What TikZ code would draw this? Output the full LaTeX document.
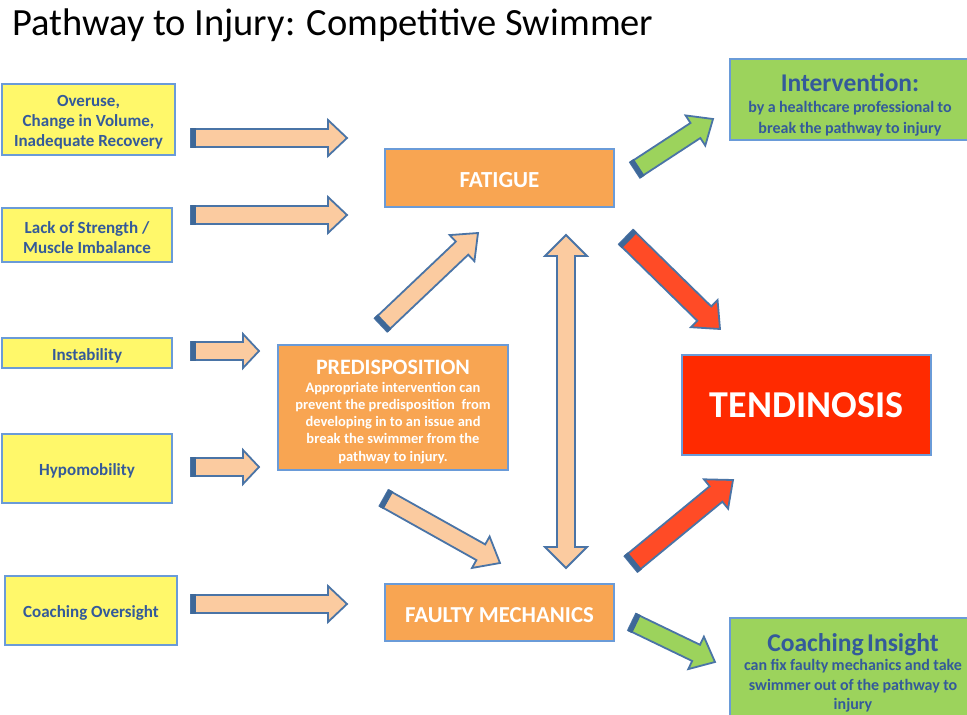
\documentclass[tikz,border=0pt]{standalone}
\usepackage{fontspec}
\setmainfont{Carlito}
\usetikzlibrary{calc}

\definecolor{boxline}{HTML}{6A9BD8}
\definecolor{txtblue}{HTML}{345A9A}
\definecolor{yellowfill}{HTML}{FFF86A}
\definecolor{orangefill}{HTML}{F8A552}
\definecolor{greenfill}{HTML}{9CD35C}
\definecolor{tendred}{HTML}{FF2A00}
\definecolor{peach}{HTML}{FBCBA0}
\definecolor{arrowred}{HTML}{FF4B26}
\definecolor{arrowgreen}{HTML}{9CD35C}
\definecolor{arrowline}{HTML}{4A74A6}
\definecolor{tailblue}{HTML}{3E6898}

\tikzset{
  basebox/.style={draw=boxline, line width=2pt, inner sep=0pt, align=center},
  ybox/.style={basebox, fill=yellowfill},
  ylab/.style={text=txtblue, align=center, inner sep=0pt, yshift=-2.5pt,
    font=\fontsize{17}{20}\selectfont\bfseries},
  obox/.style={basebox, fill=orangefill, text=white},
  olab/.style={text=white, align=center, inner sep=0pt, yshift=-2.5pt,
    font=\fontsize{23}{26}\selectfont\bfseries},
  gbox/.style={basebox, fill=greenfill, text=txtblue},
  rbox/.style={basebox, fill=tendred, text=white},
  arrowbody/.style={draw=arrowline, line width=1.8pt, line join=miter},
}

% block arrow: #1 fill, #2 tail, #3 tip, #4 shaft half width,
% #5 head half width, #6 head length
\newcommand\blockarrow[6]{%
  \coordinate (hb) at ($(#3)!#6!(#2)$);
  \coordinate (tl) at ($(#2)!5pt!(#3)$);
  \filldraw[arrowbody, fill=#1]
    ($(#2)!#4!90:(#3)$) -- ($(hb)!#4!-90:(#2)$) -- ($(hb)!#5!-90:(#2)$)
    -- (#3) -- ($(hb)!#5!90:(#2)$) -- ($(hb)!#4!90:(#2)$)
    -- ($(#2)!#4!-90:(#3)$) -- cycle;
  \fill[tailblue]
    ($(#2)!#4+1pt!90:(#3)$) -- ($(tl)!#4+1pt!90:(#3)$)
    -- ($(tl)!#4+1pt!-90:(#3)$) -- ($(#2)!#4+1pt!-90:(#3)$) -- cycle;
}

\begin{document}
\begin{tikzpicture}[x=1pt, y=-1pt]
\useasboundingbox (0,0) rectangle (967,715);
\fill[white] (0,0) rectangle (967,715);

% title
\node[anchor=base west, inner sep=0pt, font=\fontsize{38.5}{44}\selectfont]
  (title) at (12,35) {Pathway to Injury: Competitive Swimmer};

% causes on the left
\node[ybox, minimum width=173pt, minimum height=71pt,
  label={[ylab]center:{Overuse,\\Change in Volume,\\Inadequate Recovery}}]
  (overuse) at (88.5,119.5) {};
\node[ybox, minimum width=170pt, minimum height=54pt,
  label={[ylab]center:{Lack of Strength /\\Muscle Imbalance}}]
  (strength) at (87,235) {};
\node[ybox, minimum width=170pt, minimum height=30pt,
  label={[ylab]center:{Instability}}]
  (instab) at (87,353) {};
\node[ybox, minimum width=170pt, minimum height=69pt,
  label={[ylab]center:{Hypomobility}}]
  (hypo) at (87,468.5) {};
\node[ybox, minimum width=172pt, minimum height=69pt,
  label={[ylab]center:{Coaching Oversight}}]
  (oversight) at (91,610.5) {};

% central stages
\node[obox, minimum width=229pt, minimum height=58pt,
  label={[olab]center:{FATIGUE}}] (fatigue) at (499.5,178) {};
\node[obox, minimum width=230pt, minimum height=125pt] (predisbox)
  at (393,407.5) {};
\node[text=white, text width=226pt, align=center, inner sep=0pt,
  font=\bfseries] (predis) at (393,412)
  {{\fontsize{22}{24}\selectfont PREDISPOSITION\par}
   {\fontsize{14.5}{17.3}\selectfont Appropriate intervention can\\
    prevent the predisposition\ \ from\\ developing in to an issue and\\
    break the swimmer from the\\ pathway to injury.\par}};
\node[obox, minimum width=229pt, minimum height=57pt,
  label={[olab, font=\fontsize{22.8}{26}\selectfont\bfseries]center:{FAULTY MECHANICS}}]
  (mech) at (499.5,612.5) {};

% outcome
\node[rbox, minimum width=249pt, minimum height=100pt,
  font=\fontsize{38}{44}\selectfont\bfseries] (tend) at (806.5,405) {TENDINOSIS};

% interventions
\node[gbox, minimum width=240pt, minimum height=81pt] (intervbox)
  at (850,99.5) {};
\node[text=txtblue, text width=236pt, align=center, inner sep=0pt,
  font=\bfseries] (interv) at (850,105)
  {{\fontsize{25.5}{26}\selectfont Intervention:\par}
   {\fontsize{16}{21}\selectfont by a healthcare professional to\\
    break the pathway to injury\par}};
\node[gbox, minimum width=240pt, minimum height=104pt, anchor=north] (insightbox)
  at (850,617) {};
\node[text=txtblue, text width=236pt, align=center, anchor=north, inner sep=0pt,
  font=\bfseries] (insight) at (853,633)
  {{\fontsize{25.6}{26}\selectfont Coaching Insight\par}
   {\fontsize{16}{19.5}\selectfont can fix faulty mechanics and take\\
    swimmer out of the pathway to\\ injury\par}};

% arrow end points
\coordinate (a1s) at (191,138);  \coordinate (a1e) at (347,138);
\coordinate (a2s) at (191,215);  \coordinate (a2e) at (347,215);
\coordinate (a3s) at (191,351);  \coordinate (a3e) at (259,351);
\coordinate (a4s) at (191,467);  \coordinate (a4e) at (259,467);
\coordinate (a5s) at (191,604);  \coordinate (a5e) at (347,604);
\coordinate (pfs) at (381,325);  \coordinate (pfe) at (478,233);
\coordinate (pms) at (384,498);  \coordinate (pme) at (500,563);
\coordinate (fts) at (626,237);  \coordinate (fte) at (720,329);
\coordinate (mts) at (631,564);  \coordinate (mte) at (733,480);
\coordinate (fis) at (635,170);  \coordinate (fie) at (713,119);
\coordinate (mcs) at (632,622);  \coordinate (mce) at (715,662);

% arrows from causes
\blockarrow{peach}{a1s}{a1e}{9pt}{18pt}{19pt}
\blockarrow{peach}{a2s}{a2e}{9pt}{18pt}{19pt}
\blockarrow{peach}{a3s}{a3e}{9pt}{17pt}{16pt}
\blockarrow{peach}{a4s}{a4e}{9pt}{17pt}{16pt}
\blockarrow{peach}{a5s}{a5e}{9pt}{18pt}{19pt}

% predisposition feeding fatigue and mechanics
\blockarrow{peach}{pfs}{pfe}{9pt}{18pt}{22pt}
\blockarrow{peach}{pms}{pme}{9pt}{18pt}{22pt}

% fatigue <-> faulty mechanics
\coordinate (dtop) at (566,235);
\coordinate (dbot) at (566,568);
\filldraw[arrowbody, fill=peach]
  (dtop) -- ($(dtop)+(21,21)$) -- ($(dtop)+(9,21)$) -- ($(dbot)+(9,-21)$)
  -- ($(dbot)+(21,-21)$) -- (dbot) -- ($(dbot)+(-21,-21)$) -- ($(dbot)+(-9,-21)$)
  -- ($(dtop)+(-9,21)$) -- ($(dtop)+(-21,21)$) -- cycle;

% towards tendinosis
\blockarrow{arrowred}{fts}{fte}{10pt}{19pt}{22pt}
\blockarrow{arrowred}{mts}{mte}{10pt}{19pt}{22pt}

% towards interventions
\blockarrow{arrowgreen}{fis}{fie}{9pt}{18pt}{21pt}
\blockarrow{arrowgreen}{mcs}{mce}{9pt}{18pt}{21pt}
\end{tikzpicture}
\end{document}
